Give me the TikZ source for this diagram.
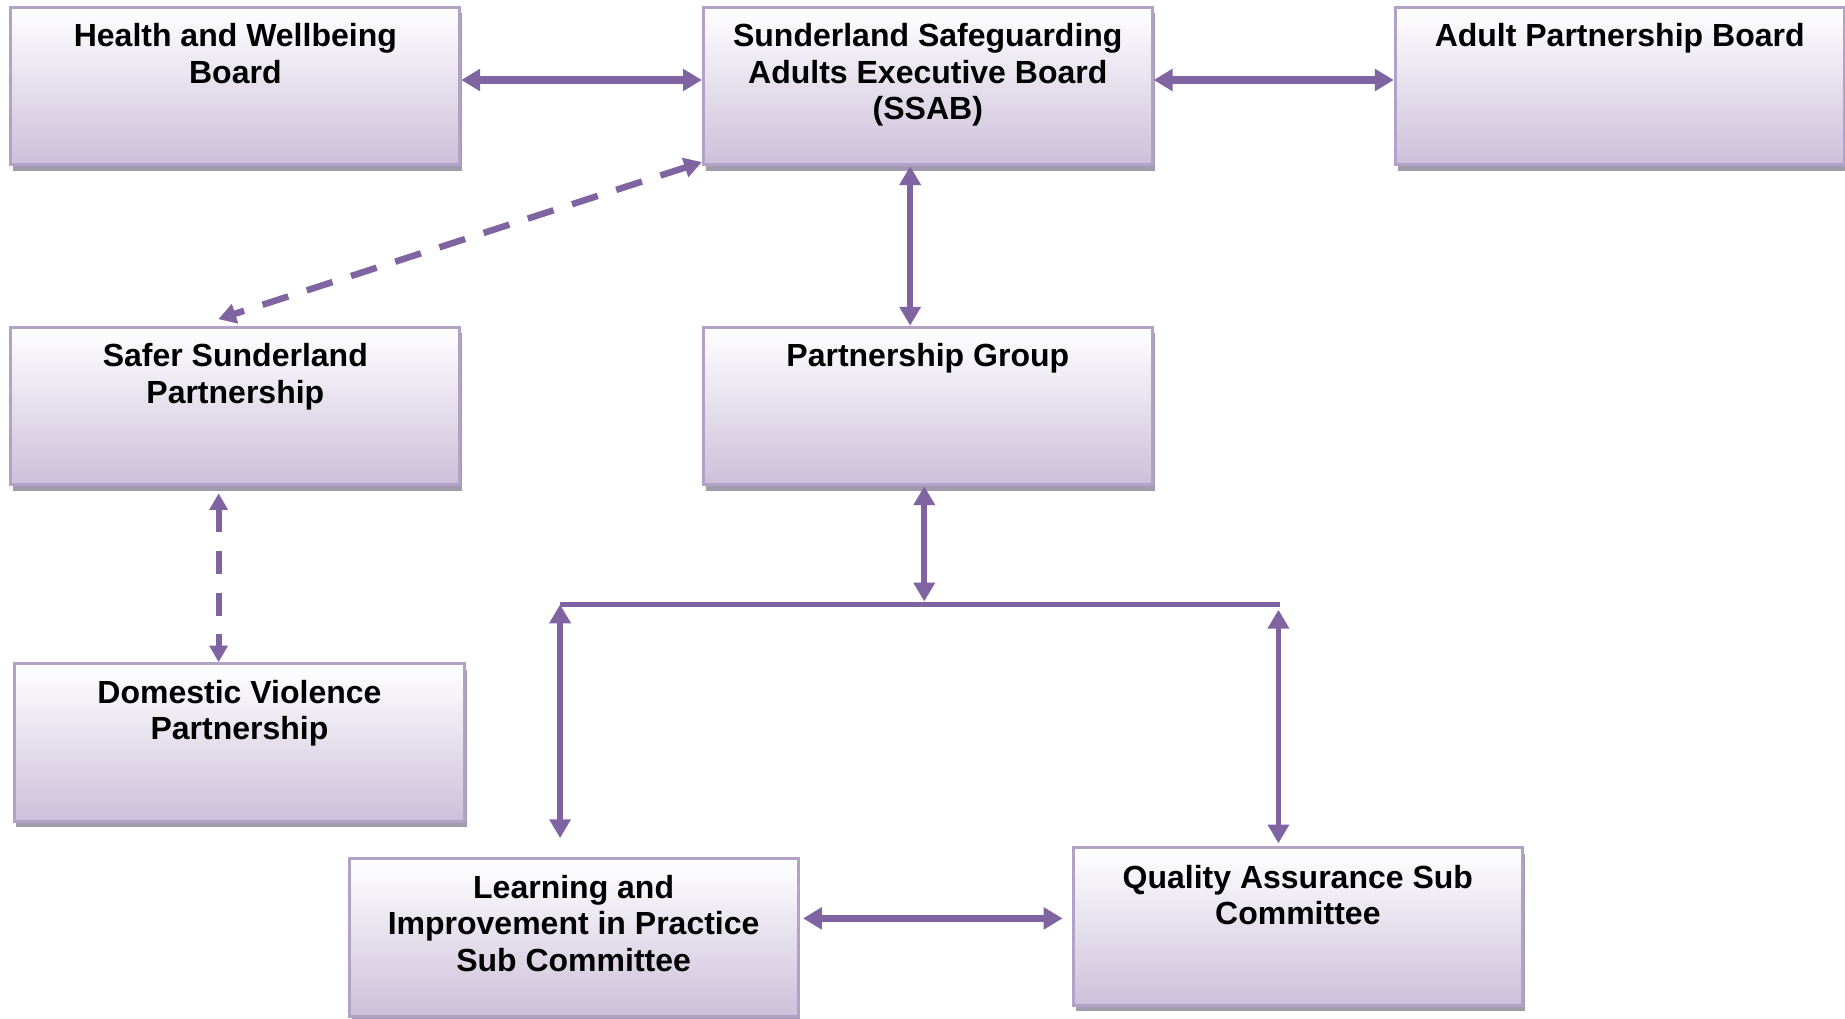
\documentclass[tikz,border=0pt]{standalone}
\usepackage{fontspec}
\setmainfont{Liberation Sans}
\usetikzlibrary{arrows.meta,shadows,calc}
\definecolor{arrowc}{HTML}{8064A2}
\definecolor{borderc}{HTML}{B3A2C7}
\definecolor{lavc}{HTML}{CCC0DA}
\definecolor{shadc}{HTML}{A19BAD}
\tikzset{
  box/.style={rectangle, draw=borderc, line width=2.5pt, top color=white, bottom color=lavc,
    minimum width=381.5pt, minimum height=134pt, inner sep=0pt,
    drop shadow={shadow xshift=2pt, shadow yshift=-5pt, fill=shadc, opacity=1}},
  lbl/.style={align=center, inner sep=0pt, anchor=base,
    font=\fontsize{27.2}{31}\selectfont\bfseries},
  arrthick/.style={draw=arrowc, line width=6pt,
    {Triangle[length=16pt,width=18pt]}-{Triangle[length=16pt,width=18pt]}},
  arrthin/.style={draw=arrowc, line width=5pt,
    {Triangle[length=16pt,width=17.5pt]}-{Triangle[length=16pt,width=17.5pt]}},
  arrdiag/.style={draw=arrowc, line width=5.5pt, dash pattern=on 23pt off 16.5pt,
    {Triangle[length=15pt,width=16.5pt]}-{Triangle[length=15pt,width=16.5pt]}},
  arrvdash/.style={draw=arrowc, line width=5pt, dash pattern=on 20pt off 15.6pt,
    {Triangle[length=14pt,width=15pt]}-{Triangle[length=14pt,width=15pt]}},
  barline/.style={draw=arrowc, line width=5pt}
}
\begin{document}
\begin{tikzpicture}[x=1pt,y=-1pt]
\useasboundingbox[fill=white] (0,0) rectangle (1568,866);
% boxes
\node[box] (hwb)  at (200,73) {};
\node[box] (ssab) at (788.5,73) {};
\node[box] (apb)  at (1376.5,73) {};
\node[box] (ssp)  at (200,345) {};
\node[box] (pg)   at (788.5,345) {};
\node[box, minimum width=383pt] (dvp)  at (203.5,631) {};
\node[box] (lip)  at (487.5,796.5) {};
\node[box] (qas)  at (1103,787.5) {};
% labels (anchor = baseline of the last line)
\node[lbl] (hwbt)  at ([yshift=-66pt]hwb.north)  {Health and Wellbeing\\Board};
\node[lbl] (ssabt) at ([yshift=-97pt]ssab.north) {Sunderland Safeguarding\\Adults Executive Board\\(SSAB)};
\node[lbl] (apbt)  at ([yshift=-35pt]apb.north)  {Adult Partnership Board};
\node[lbl] (sspt)  at ([yshift=-66pt]ssp.north)  {Safer Sunderland\\Partnership};
\node[lbl] (pgt)   at ([yshift=-35pt]pg.north)   {Partnership Group};
\node[lbl] (dvpt)  at ([yshift=-66pt]dvp.north)  {Domestic Violence\\Partnership};
\node[lbl] (lipt)  at ([yshift=-97pt]lip.north)  {Learning and\\Improvement in Practice\\Sub Committee};
\node[lbl] (qast)  at ([yshift=-66.5pt]qas.north)  {Quality Assurance Sub\\Committee};
% bar
\coordinate (barL) at (476,513.7);
\coordinate (barR) at (1088,513.7);
\draw[barline] (barL) -- (barR);
% connectors
\draw[arrthick] ([yshift=5pt]hwb.east) -- ([yshift=5pt]ssab.west);
\draw[arrthick] ([yshift=5pt]ssab.east) -- ([yshift=5pt]apb.west);
\draw[arrdiag] ([yshift=3.5pt]ssab.south west) -- ([xshift=-14.5pt,yshift=5.5pt]ssp.north);
\draw[arrthin] ([xshift=-15pt]ssab.south) -- ([xshift=-15pt]ssab.south |- pg.north);
\draw[arrthin] ([xshift=-3pt]pg.south) -- ([xshift=-3pt,yshift=2.5pt]pg.south |- barL);
\draw[arrthin] (barL) -- ([yshift=16pt]barL |- lip.north);
\draw[arrthin] ([xshift=-1.5pt,yshift=-4.5pt]barR) -- ([xshift=-1.5pt,yshift=2.5pt]barR |- qas.north);
\draw[arrthick] ([xshift=3pt,yshift=16pt]lip.east) -- ([xshift=-8pt,yshift=16pt]lip.east -| qas.west);
\draw[arrvdash] ([xshift=-14.2pt,yshift=-6pt]ssp.south) -- ([xshift=-14.2pt]ssp.south |- dvp.north);
\end{tikzpicture}
\end{document}
